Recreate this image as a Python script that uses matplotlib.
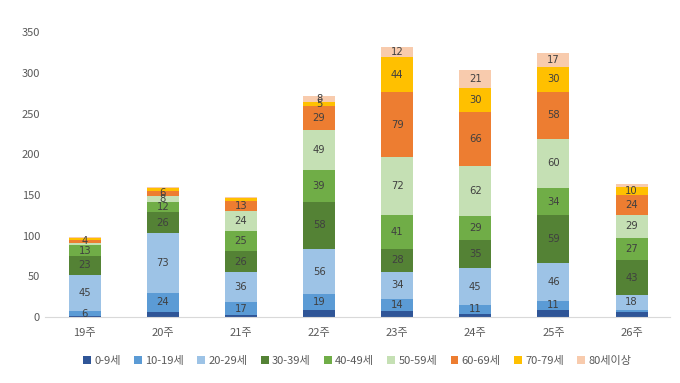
import matplotlib
matplotlib.use("Agg")
import matplotlib.pyplot as plt
import numpy as np

plt.rcParams['font.family'] = ['Noto Sans CJK KR', 'DejaVu Sans']

weeks = ['19주', '20주', '21주', '22주', '23주', '24주', '25주', '26주']
groups = ['0-9세', '10-19세', '20-29세', '30-39세', '40-49세',
          '50-59세', '60-69세', '70-79세', '80세이상']
colors = ['#2F5597', '#5B9BD5', '#9DC3E6', '#548235', '#70AD47',
          '#C5E0B4', '#ED7D31', '#FFC000', '#F8CBAD']

age_0_9 = [1, 6, 2, 9, 8, 4, 9, 6]
age_10_19 = [6, 24, 17, 19, 14, 11, 11, 3]
age_20_29 = [45, 73, 36, 56, 34, 45, 46, 18]
age_30_39 = [23, 26, 26, 58, 28, 35, 59, 43]
age_40_49 = [13, 12, 25, 39, 41, 29, 34, 27]
age_50_59 = [3, 8, 24, 49, 72, 62, 60, 29]
age_60_69 = [4, 6, 13, 29, 79, 66, 58, 24]
age_70_79 = [2, 3, 3, 5, 44, 30, 30, 10]
age_80_up = [1, 2, 1, 8, 12, 21, 17, 3]

series = [age_0_9, age_10_19, age_20_29, age_30_39, age_40_49,
          age_50_59, age_60_69, age_70_79, age_80_up]

fig = plt.figure(figsize=(6.8, 3.83), dpi=100)
ax = fig.add_axes([0.066, 0.172, 0.919, 0.744])

x = np.arange(len(weeks))
bottom = np.zeros(len(weeks))
for i, (name, vals, c) in enumerate(zip(groups, series, colors)):
    vals = np.array(vals, dtype=float)
    bars = ax.bar(x, vals, 0.41, bottom=bottom, color=c, label=name,
                  linewidth=0)
    if i > 0:
        labels = [str(int(v)) if v >= 4 else '' for v in vals]
        ax.bar_label(bars, labels=labels, label_type='center',
                     fontsize=7.2, color='#404040', family='DejaVu Sans')
    bottom += vals

ax.set_xlim(-0.51, 7.49)
ax.set_ylim(0, 350)
ax.set_yticks(range(0, 351, 50))
ax.set_xticks(x)
ax.set_xticklabels(weeks)
for s in ['top', 'right', 'left']:
    ax.spines[s].set_visible(False)
ax.spines['bottom'].set_color('#D9D9D9')
ax.tick_params(axis='both', length=0, labelsize=8, colors='#595959')
ax.tick_params(axis='x', pad=8)

ax.legend(loc='upper center', bbox_to_anchor=(0.5, -0.1), ncol=9,
          frameon=False, fontsize=8, handlelength=0.7, handleheight=0.7,
          handletextpad=0.3, columnspacing=1.2, labelcolor='#595959')

fig.savefig('out.png', dpi=100)
